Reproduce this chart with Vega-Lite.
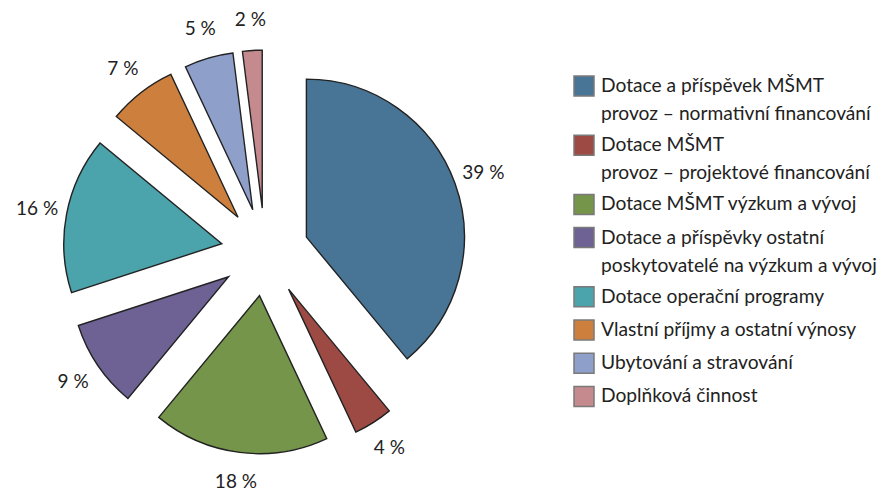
{
  "$schema": "https://vega.github.io/schema/vega-lite/v6.json",
  "width": 887,
  "height": 493,
  "autosize": {"type": "none"},
  "padding": 0,
  "background": "white",
  "config": {
    "view": {"stroke": null},
    "style": {"guide-label": {"lineHeight": 28}}
  },
  "data": {
    "values": [
      {"i": 1, "cat": "Dotace a příspěvek MŠMT|provoz – normativní financování", "value": 39},
      {"i": 2, "cat": "Dotace MŠMT|provoz – projektové financování", "value": 4},
      {"i": 3, "cat": "Dotace MŠMT výzkum a vývoj", "value": 18},
      {"i": 4, "cat": "Dotace a příspěvky ostatní|poskytovatelé na výzkum a vývoj", "value": 9},
      {"i": 5, "cat": "Dotace operační programy", "value": 16},
      {"i": 6, "cat": "Vlastní příjmy a ostatní výnosy", "value": 7},
      {"i": 7, "cat": "Ubytování a stravování", "value": 5},
      {"i": 8, "cat": "Doplňková činnost", "value": 2}
    ]
  },
  "transform": [
    {"stack": "value", "groupby": [], "sort": [{"field": "i", "order": "ascending"}], "as": ["v0", "v1"]},
    {"calculate": "(datum.v0 + datum.v1) / 2", "as": "vm"},
    {"calculate": "sin(PI * (datum.v0 + datum.v1) / 100)", "as": "ux"},
    {"calculate": "-cos(PI * (datum.v0 + datum.v1) / 100)", "as": "uy"},
    {"calculate": "datum.value + ' %'", "as": "lbl"}
  ],
  "encoding": {
    "x": {"field": "ux", "type": "quantitative", "axis": null, "scale": {"domain": [-1, 1], "range": [221, 309], "nice": false, "zero": false}},
    "y": {"field": "uy", "type": "quantitative", "axis": null, "scale": {"domain": [-1, 1], "range": [208, 296], "nice": false, "zero": false}}
  },
  "layer": [
    {
      "mark": {"type": "arc", "outerRadius": 158, "stroke": "#222222", "strokeWidth": 1.4, "strokeJoin": "miter"},
      "encoding": {
        "theta": {"field": "v0", "type": "quantitative", "scale": {"domain": [0, 100]}},
        "theta2": {"field": "v1"},
        "color": {
          "field": "cat",
          "type": "nominal",
          "sort": null,
          "scale": {
            "domain": [
              "Dotace a příspěvek MŠMT|provoz – normativní financování",
              "Dotace MŠMT|provoz – projektové financování",
              "Dotace MŠMT výzkum a vývoj",
              "Dotace a příspěvky ostatní|poskytovatelé na výzkum a vývoj",
              "Dotace operační programy",
              "Vlastní příjmy a ostatní výnosy",
              "Ubytování a stravování",
              "Doplňková činnost"
            ],
            "range": ["#487596", "#9e4a44", "#74954a", "#6e6294", "#4ba3ab", "#cd803e", "#8e9fca", "#c48a8d"]
          },
          "legend": {
            "title": null,
            "orient": "none",
            "legendX": 573,
            "legendY": 75,
            "padding": 0,
            "symbolType": "square",
            "symbolSize": 400,
            "symbolStrokeColor": "#7a7a7a",
            "symbolStrokeWidth": 1.5,
            "labelFont": "Lato",
            "labelFontSize": 19.2,
            "labelColor": "#222222",
            "labelOffset": 6,
            "labelLimit": 400,
            "rowPadding": 7.2,
            "labelExpr": "split(datum.label, '|')"
          }
        }
      }
    },
    {
      "mark": {"type": "text", "radius": 188, "font": "Lato", "fontSize": 19, "color": "#222222"},
      "encoding": {
        "theta": {"field": "vm", "type": "quantitative"},
        "text": {"field": "lbl"}
      }
    }
  ]
}
